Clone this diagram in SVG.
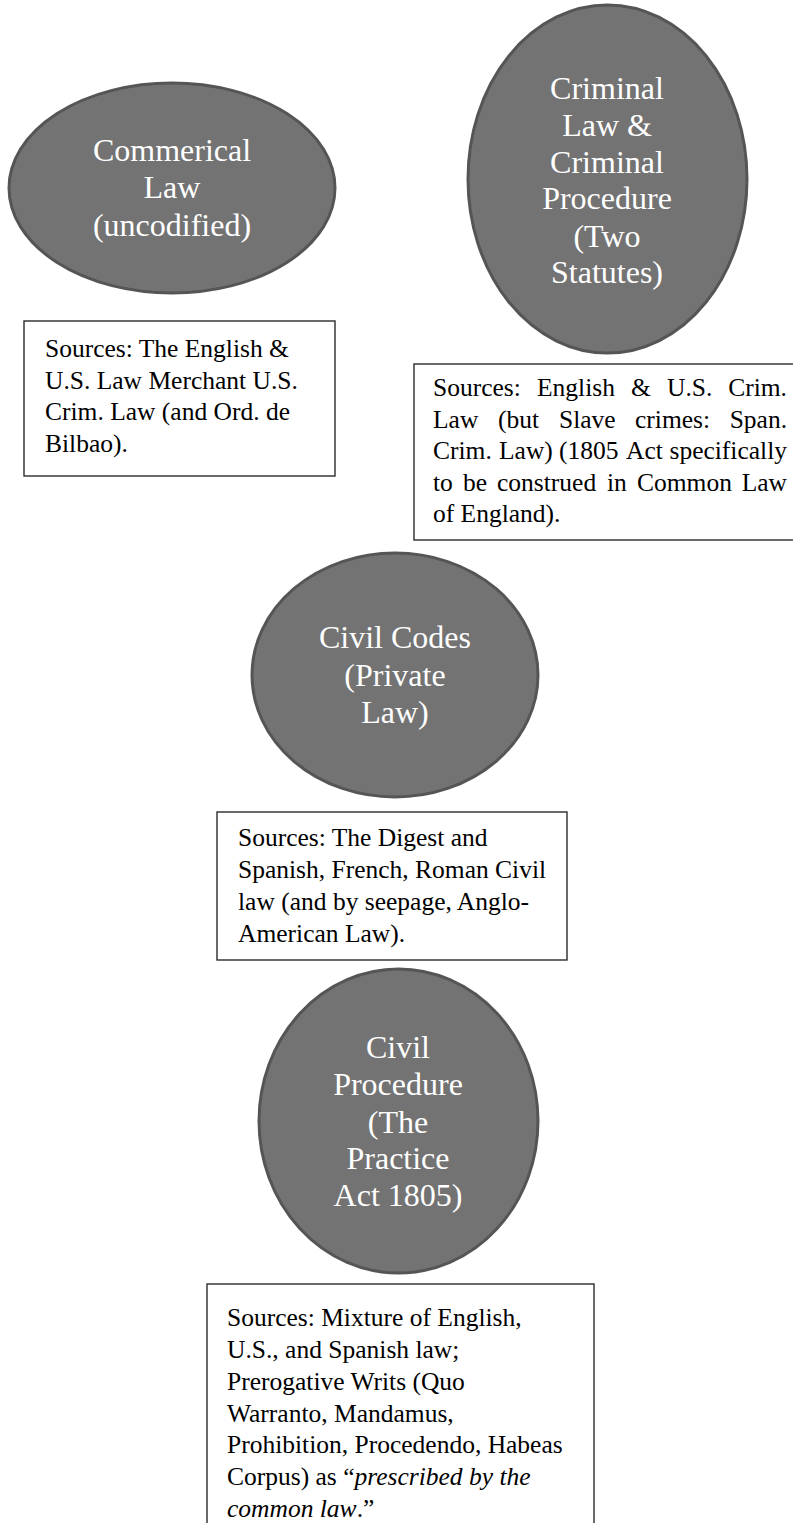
<svg xmlns="http://www.w3.org/2000/svg" width="793" height="1523" viewBox="0 0 793 1523">
<style>
.oval{fill:#737373;stroke:#555555;stroke-width:3}
.otx{font-family:"Liberation Serif","Times New Roman",serif;font-size:32px;fill:#ffffff;text-anchor:middle}
.box{fill:#ffffff;stroke:#2b2b2b;stroke-width:1.4}
.btx{font-family:"Liberation Serif","Times New Roman",serif;font-size:25.5px;fill:#000000}
.end{text-anchor:end}
.it{font-style:italic}
</style>
<rect x="0" y="0" width="793" height="1523" fill="#ffffff"/>
<g id="connectors"></g>
<g id="commercial-law">
<ellipse class="oval" cx="172" cy="188" rx="163" ry="105"/>
<text class="otx" x="172" y="161">Commerical</text>
<text class="otx" x="172" y="198">Law</text>
<text class="otx" x="172" y="236">(uncodified)</text>
</g>
<g id="commercial-sources">
<rect class="box" x="24" y="321" width="311" height="155"/>
<text class="btx" x="45" y="357">Sources: The English &amp;</text>
<text class="btx" x="45" y="389">U.S. Law Merchant U.S.</text>
<text class="btx" x="45" y="420">Crim. Law (and Ord. de</text>
<text class="btx" x="45" y="452">Bilbao).</text>
</g>
<g id="criminal-law">
<ellipse class="oval" cx="607.5" cy="179" rx="139.5" ry="174"/>
<text class="otx" x="607" y="99">Criminal</text>
<text class="otx" x="607" y="136">Law &amp;</text>
<text class="otx" x="607" y="173">Criminal</text>
<text class="otx" x="607" y="209">Procedure</text>
<text class="otx" x="607" y="247">(Two</text>
<text class="otx" x="607" y="283">Statutes)</text>
</g>
<g id="criminal-sources">
<rect class="box" x="414" y="364" width="390" height="176"/>
<text class="btx" y="396"><tspan x="433">Sources:</tspan><tspan x="537">English</tspan><tspan x="631">&amp;</tspan><tspan x="667">U.S.</tspan></text>
<text class="btx end" x="787" y="396">Crim.</text>
<text class="btx" y="428"><tspan x="433">Law</tspan><tspan x="498">(but</tspan><tspan x="559">Slave</tspan><tspan x="635">crimes:</tspan></text>
<text class="btx end" x="787" y="428">Span.</text>
<text class="btx" y="459"><tspan x="433">Crim.</tspan><tspan x="499">Law)</tspan><tspan x="559">(1805</tspan><tspan x="626">Act</tspan></text>
<text class="btx end" x="787" y="459">specifically</text>
<text class="btx" y="491"><tspan x="433">to</tspan><tspan x="463">be</tspan><tspan x="497">construed</tspan><tspan x="607">in</tspan><tspan x="637">Common</tspan></text>
<text class="btx end" x="787" y="491">Law</text>
<text class="btx" x="433" y="522">of England).</text>
</g>
<g id="civil-codes">
<ellipse class="oval" cx="395" cy="675" rx="143" ry="122"/>
<text class="otx" x="395" y="648">Civil Codes</text>
<text class="otx" x="395" y="686">(Private</text>
<text class="otx" x="395" y="723">Law)</text>
</g>
<g id="civil-codes-sources">
<rect class="box" x="217" y="812" width="350" height="148"/>
<text class="btx" x="238" y="846">Sources: The Digest and</text>
<text class="btx" x="238" y="878">Spanish, French, Roman Civil</text>
<text class="btx" x="238" y="910">law (and by seepage, Anglo-</text>
<text class="btx" x="238" y="942">American Law).</text>
</g>
<g id="civil-procedure">
<ellipse class="oval" cx="398.5" cy="1121" rx="139.5" ry="152"/>
<text class="otx" x="398" y="1058">Civil</text>
<text class="otx" x="398" y="1095">Procedure</text>
<text class="otx" x="398" y="1133">(The</text>
<text class="otx" x="398" y="1169">Practice</text>
<text class="otx" x="398" y="1206">Act 1805)</text>
</g>
<g id="civil-procedure-sources">
<rect class="box" x="207" y="1284" width="387" height="260"/>
<text class="btx" x="227" y="1326">Sources: Mixture of English,</text>
<text class="btx" x="227" y="1358">U.S., and Spanish law;</text>
<text class="btx" x="227" y="1390">Prerogative Writs (Quo</text>
<text class="btx" x="227" y="1422">Warranto, Mandamus,</text>
<text class="btx" x="227" y="1453">Prohibition, Procedendo, Habeas</text>
<text class="btx" x="227" y="1485">Corpus) as “<tspan class="it">prescribed by the</tspan></text>
<text class="btx" x="227" y="1517"><tspan class="it">common law</tspan>.”</text>
</g>
</svg>
